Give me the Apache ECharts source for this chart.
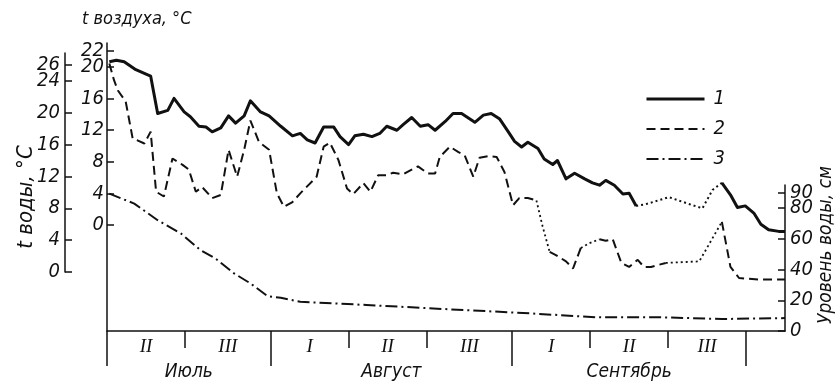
<!DOCTYPE html>
<html>
<head>
<meta charset="utf-8">
<script src="https://cdn.jsdelivr.net/npm/echarts@6/dist/echarts.min.js"></script>
<style>
  html, body { margin: 0; padding: 0; background: #fff; }
  #chart { width: 837px; height: 389px; }
</style>
</head>
<body>
<div id="chart"></div>
<script>
// x = days counted from 11 July
const monthBounds = [0, 21, 52, 82]
const decadeBounds = [10, 31, 41, 62, 72]
const decadeNames = ['II', 'III', 'I', 'II', 'III', 'I', 'II', 'III']
const monthNames = ['Июль', 'Август', 'Сентябрь']

const waterTicks = [0, 4, 8, 12, 16, 20, 24, 26]
const airTicks = [0, 4, 8, 12, 16, 20, 22]
const levelTicks = [0, 20, 40, 60, 80, 90]

// 1 - t воды, °C
const waterTemp = [[0.3,26.4],[1.2,26.6],[2.2,26.4],[3.7,25.4],[5.6,24.6],[6.5,19.9],[7.8,20.3],[8.6,21.8],[9.9,20.1],[10.7,19.5],[11.8,18.3],[12.7,18.2],[13.5,17.6],[14.6,18.1],[15.6,19.6],[16.5,18.7],[17.6,19.6],[18.4,21.5],[19.7,20.1],[20.8,19.6],[22.3,18.3],[23.8,17.1],[24.8,17.4],[25.7,16.6],[26.7,16.2],[27.8,18.2],[29.1,18.2],[29.9,17.0],[31.0,16.0],[31.8,17.1],[32.9,17.3],[34.0,17.0],[35.0,17.4],[35.9,18.3],[37.2,17.8],[38.0,18.5],[39.1,19.4],[40.2,18.3],[41.2,18.5],[42.1,17.8],[43.4,18.9],[44.4,19.9],[45.5,19.9],[47.2,18.8],[48.3,19.7],[49.3,19.9],[50.4,19.2],[51.5,17.6],[52.3,16.4],[53.2,15.7],[54.0,16.3],[55.3,15.5],[56.1,14.2],[57.2,13.5],[57.8,14.0],[58.9,11.7],[60.0,12.4],[61.3,11.7],[62.3,11.2],[63.2,10.9],[64.0,11.5],[65.1,10.9],[66.2,9.8],[67.0,9.9],[67.9,8.3],[69.1,8.5],[72.1,9.4],[75.1,8.4],[76.4,8.0],[77.7,10.3],[78.9,11.2],[80.0,9.7],[80.9,8.1],[81.9,8.3],[83.0,7.4],[83.9,6.0],[84.9,5.3],[86.2,5.1],[87,5.1]]
const waterGaps = [[67.9, 78.9]]

// 2 - t воздуха, °C
const airTemp = [[0.3,20.4],[0.9,18.3],[1.4,17.0],[2.4,15.6],[3.3,10.9],[3.9,10.7],[4.8,10.3],[5.6,11.8],[6.3,4.2],[7.3,3.6],[8.4,8.4],[9.7,7.6],[10.5,7.0],[11.4,4.2],[12.2,4.8],[13.5,3.4],[14.6,3.8],[15.6,9.5],[16.7,6.1],[17.6,9.5],[18.4,13.2],[19.5,10.5],[20.8,9.5],[21.8,4.0],[22.7,2.3],[23.8,2.9],[24.8,4.0],[26.9,6.1],[27.8,9.9],[28.6,10.4],[29.7,8.2],[30.8,4.6],[31.6,3.9],[32.9,5.3],[33.8,4.2],[34.8,6.3],[35.9,6.3],[36.7,6.6],[38.0,6.4],[39.1,7.0],[39.9,7.4],[41.2,6.5],[42.1,6.5],[42.7,8.6],[44.0,9.9],[45.1,9.2],[45.9,8.8],[47.0,6.1],[47.8,8.5],[48.9,8.7],[50.0,8.6],[51.0,6.7],[52.1,2.5],[52.9,3.4],[54.0,3.4],[55.1,3.1],[55.9,-0.2],[56.8,-3.4],[57.6,-3.8],[58.9,-4.6],[59.8,-5.5],[60.8,-2.9],[61.9,-2.3],[63.2,-1.8],[64.0,-2.0],[64.9,-1.8],[66.0,-4.8],[67.0,-5.3],[68.1,-4.4],[68.9,-5.3],[69.8,-5.3],[71.7,-4.8],[73.8,-4.7],[76.0,-4.6],[78.9,0.4],[80.0,-5.3],[81.1,-6.7],[83.6,-6.9],[87,-6.9]]
const airGaps = [[55.1, 56.8], [60.8, 63.2], [71.7, 78.9]]

// 3 - уровень воды, см
const waterLevel = [[0.3,89.4],[3.5,82.9],[6.5,72.1],[9.5,63.4],[12.0,52.6],[13.9,47.2],[16.3,37.5],[18.4,31.0],[20.6,22.7],[22.3,21.6],[24.8,19.0],[29.1,18.0],[33.3,16.9],[37.6,15.8],[44.0,14.1],[54.2,11.5],[62.8,8.9],[71.2,8.9],[78.9,7.8],[87,8.4]]

const FONT = '"Liberation Sans Narrow", "DejaVu Sans Condensed", "Liberation Sans", sans-serif'
const INK = '#111'

const allBounds = monthBounds.concat(decadeBounds).sort((a, b) => a - b)
const decadeCenters = allBounds.slice(0, -1).map((b, i) => (b + allBounds[i + 1]) / 2)
const monthCenters = monthBounds.slice(0, -1).map((b, i) => (b + monthBounds[i + 1]) / 2)

// точки внутри пропусков рисуются пунктиром
function inGap(d, gaps) {
  return gaps.some(g => d >= g[0] - 0.01 && d <= g[1] + 0.01)
}
function insideGap(d, gaps) {
  return gaps.some(g => d > g[0] + 0.01 && d < g[1] - 0.01)
}
function mainPart(points, gaps) {
  return points.map(p => (insideGap(p[0], gaps) ? [p[0], null] : p))
}
function gapPart(points, gaps) {
  return points.map(p => (inGap(p[0], gaps) ? p : [p[0], null]))
}

const labelStyle = { color: INK, fontFamily: FONT, fontStyle: 'italic', fontSize: 20 }
const axisLine = { show: true, onZero: false, lineStyle: { color: INK, width: 1.5 } }
const tickLine = { color: INK, width: 1.5 }

function hiddenX(gridIndex) {
  return { type: 'value', gridIndex, min: 0, max: 87, show: false, axisLine: { onZero: false } }
}

// ось с линией и засечками; верхняя подпись стоит близко к соседней,
// поэтому она выводится отдельной осью без линии, чтобы её не скрывало
function yAxisPair(gridIndex, position, offset, min, max, ticks, margin) {
  const base = { type: 'value', gridIndex, position, offset, min, max, splitLine: { show: false } }
  return [
    {
      ...base,
      axisLine,
      axisTick: { show: true, inside: true, length: 7, customValues: ticks, lineStyle: tickLine },
      axisLabel: { ...labelStyle, margin, customValues: ticks.slice(0, -1) },
    },
    {
      ...base,
      axisLine: { show: false, onZero: false },
      axisTick: { show: false },
      axisLabel: { ...labelStyle, margin, customValues: ticks.slice(-1) },
    },
  ]
}

const chart = echarts.init(document.getElementById('chart'))

const option = {
  animation: false,
  backgroundColor: '#fff',
  grid: [
    { left: 107, right: 52, top: 43, bottom: 58 },
    { left: 107, right: 52, top: 53, bottom: 117 },
    { left: 107, right: 52, top: 185, bottom: 58 },
  ],
  legend: {
    orient: 'vertical',
    left: 640,
    top: 84,
    itemWidth: 58,
    itemHeight: 14,
    itemGap: 10,
    itemStyle: { opacity: 0 },
    textStyle: { ...labelStyle, lineHeight: 20, padding: [0, 0, 0, 4] },
    data: [
      { name: '1', lineStyle: { width: 3 } },
      { name: '2', lineStyle: { width: 2 } },
      { name: '3', lineStyle: { width: 2 } },
    ],
  },
  xAxis: [
    {
      type: 'value',
      gridIndex: 0,
      position: 'bottom',
      min: 0,
      max: 87,
      axisLine,
      axisTick: { show: true, customValues: monthBounds, length: 35, lineStyle: tickLine },
      axisLabel: {
        ...labelStyle,
        fontFamily: '"Liberation Serif", serif',
        fontSize: 19,
        margin: 6,
        customValues: decadeCenters,
        formatter: v => decadeNames[decadeCenters.indexOf(v)],
      },
      splitLine: { show: false },
    },
    {
      type: 'value',
      gridIndex: 0,
      position: 'bottom',
      min: 0,
      max: 87,
      axisLine: { show: false, onZero: false },
      axisTick: { show: true, customValues: decadeBounds, length: 17, lineStyle: tickLine },
      axisLabel: {
        ...labelStyle,
        fontSize: 19,
        margin: 32,
        customValues: monthCenters,
        formatter: v => monthNames[monthCenters.indexOf(v)],
      },
      splitLine: { show: false },
    },
    hiddenX(1),
    hiddenX(2),
  ],
  yAxis: [
    ...yAxisPair(0, 'left', 0, -13.4, 23, airTicks, 3),
    ...yAxisPair(1, 'left', 42, 0, 27.5, waterTicks, 5),
    ...yAxisPair(2, 'right', 0, 0, 95, levelTicks, 5),
  ],
  series: [
    {
      name: '1',
      type: 'line',
      xAxisIndex: 2,
      yAxisIndex: 2,
      symbol: 'none',
      clip: false,
      data: mainPart(waterTemp, waterGaps),
      lineStyle: { color: INK, width: 3, join: 'round' },
      itemStyle: { color: INK },
    },
    {
      name: '1dots',
      type: 'line',
      xAxisIndex: 2,
      yAxisIndex: 2,
      symbol: 'none',
      clip: false,
      data: gapPart(waterTemp, waterGaps),
      lineStyle: { color: INK, width: 2, type: [2, 3] },
    },
    {
      name: '2',
      type: 'line',
      xAxisIndex: 0,
      yAxisIndex: 0,
      symbol: 'none',
      data: mainPart(airTemp, airGaps),
      lineStyle: { color: INK, width: 2, type: [9, 5] },
      itemStyle: { color: INK },
    },
    {
      name: '2dots',
      type: 'line',
      xAxisIndex: 0,
      yAxisIndex: 0,
      symbol: 'none',
      data: gapPart(airTemp, airGaps),
      lineStyle: { color: INK, width: 1.8, type: [2, 3] },
    },
    {
      name: '3',
      type: 'line',
      xAxisIndex: 3,
      yAxisIndex: 4,
      symbol: 'none',
      clip: false,
      data: waterLevel,
      lineStyle: { color: INK, width: 2, type: [12, 4, 2, 4] },
      itemStyle: { color: INK },
    },
  ],
  graphic: [
    {
      type: 'text',
      left: 82,
      top: 10,
      style: { text: 't воздуха, °C', fill: INK, font: 'italic 18px ' + FONT },
    },
    {
      type: 'text',
      x: 26,
      y: 197,
      rotation: Math.PI / 2,
      style: { text: 't воды, °C', fill: INK, font: 'italic 22px ' + FONT, align: 'center', verticalAlign: 'middle' },
    },
    {
      type: 'text',
      x: 826,
      y: 245,
      rotation: Math.PI / 2,
      style: { text: 'Уровень воды, см', fill: INK, font: 'italic 19px ' + FONT, align: 'center', verticalAlign: 'middle' },
    },
  ],
}

chart.setOption(option)
</script>
</body>
</html>
